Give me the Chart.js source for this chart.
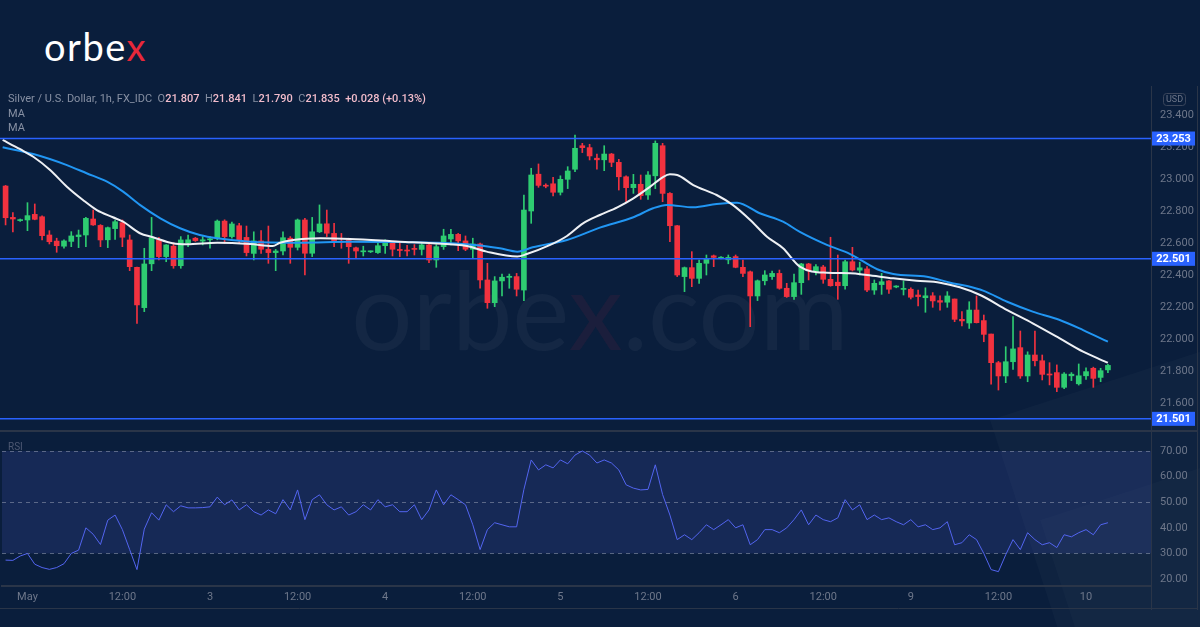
<!DOCTYPE html>
<html>
<head>
<meta charset="utf-8">
<script src="https://cdn.jsdelivr.net/npm/chart.js@4.4.0/dist/chart.umd.min.js"></script>
<style>
    html, body { margin: 0; padding: 0; }
    body { width: 1200px; height: 627px; background: #0a1e3c; overflow: hidden; position: relative; font-family: Roboto, 'Liberation Sans', sans-serif; }
    .deco { position: absolute; left: 990px; top: 420px; width: 420px; height: 460px; background: rgba(255,255,255,0.025); transform: rotate(-18deg); transform-origin: 0 0; }
    .deco2 { position: absolute; left: 1040px; top: 520px; width: 420px; height: 300px; background: rgba(255,255,255,0.02); transform: rotate(-18deg); transform-origin: 0 0; }
    .logo { position: absolute; left: 44px; top: 28px; font-family: Lato, 'Open Sans', sans-serif; font-size: 38px; line-height: 37px; color: #fff; letter-spacing: 1.5px; }
    .logo span { color: #e8283a; }
    .mark { position: absolute; left: 0; width: 1200px; top: 256px; text-align: center; font-family: Lato, sans-serif; font-weight: 400; font-size: 108px; line-height: 105px; color: rgba(255,255,255,0.045); }
    .mark span { color: rgba(230,40,60,0.08); }
    #wrap { position: absolute; left: 0; top: 86px; width: 1198px; height: 524px; }
    .legend { position: absolute; left: 8px; top: 92px; font-size: 11px; line-height: 14.5px; color: #8790a3; }
    .legend b { font-weight: 500; color: #f2bccb; }
    .rsi-title { position: absolute; left: 8px; top: 441px; font-size: 10px; color: #4d5872; }
</style>
</head>
<body>
<div class="deco"></div>
<div class="deco2"></div>
<div class="logo">orbe<span>x</span></div>
<div class="mark">orbe<span>x</span>.com</div>
<div id="wrap"><canvas id="grafico" width="1198" height="524"></canvas></div>
<div class="legend">
    Silver / U.S. Dollar, 1h, FX_IDC&nbsp;&nbsp;O<b>21.807</b>&nbsp;&nbsp;H<b>21.841</b>&nbsp;&nbsp;L<b>21.790</b>&nbsp;&nbsp;C<b>21.835</b>&nbsp;&nbsp;<b>+0.028 (+0.13%)</b><br>
    MA<br>
    MA
</div>
<div class="rsi-title">RSI</div>
<script>
// candles (1h), index 0 = first bar on the left
const abertura = [22.956,22.760,22.740,22.744,22.779,22.764,22.650,22.612,22.580,22.610,22.640,22.650,22.750,22.710,22.620,22.690,22.727,22.619,22.448,22.196,
    22.470,22.619,22.515,22.580,22.458,22.600,22.630,22.612,22.620,22.630,22.737,22.640,22.708,22.635,22.535,22.613,22.560,22.540,22.550,22.630,
    22.573,22.744,22.536,22.670,22.720,22.660,22.610,22.620,22.570,22.545,22.545,22.540,22.583,22.600,22.560,22.555,22.565,22.560,22.588,22.494,
    22.577,22.625,22.654,22.613,22.561,22.594,22.369,22.227,22.363,22.385,22.390,22.306,22.800,23.030,22.960,22.970,22.917,22.998,23.061,23.208,
    23.196,23.130,23.120,23.156,23.104,23.014,22.946,22.967,22.900,23.020,23.208,22.910,22.708,22.390,22.446,22.379,22.473,22.520,22.505,22.495,
    22.515,22.448,22.420,22.269,22.364,22.390,22.410,22.317,22.265,22.352,22.469,22.420,22.450,22.373,22.355,22.333,22.483,22.430,22.438,22.306,
    22.340,22.363,22.325,22.310,22.311,22.275,22.258,22.270,22.240,22.230,22.250,22.123,22.100,22.181,22.115,22.031,21.852,21.769,21.858,21.946,
    21.769,21.900,21.864,21.780,21.790,21.698,21.770,21.720,21.770,21.817,21.760,21.807];
const maxima = [22.960,22.790,22.750,22.852,22.844,22.770,22.677,22.630,22.620,22.671,22.681,22.760,22.806,22.715,22.700,22.744,22.744,22.650,22.450,22.567,
    22.760,22.635,22.590,22.600,22.640,22.650,22.635,22.640,22.640,22.744,22.745,22.730,22.723,22.706,22.670,22.677,22.706,22.560,22.670,22.640,
    22.750,22.754,22.760,22.838,22.806,22.723,22.660,22.630,22.575,22.580,22.550,22.600,22.620,22.600,22.600,22.585,22.590,22.600,22.595,22.590,
    22.686,22.686,22.660,22.644,22.630,22.600,22.473,22.390,22.406,22.406,22.410,22.900,23.067,23.094,22.970,23.010,23.020,23.077,23.275,23.223,
    23.217,23.156,23.208,23.160,23.123,23.020,23.029,23.025,23.046,23.238,23.223,22.915,22.710,22.450,22.546,22.494,22.525,22.525,22.515,22.525,
    22.525,22.494,22.425,22.369,22.427,22.425,22.431,22.348,22.406,22.473,22.473,22.465,22.460,22.636,22.525,22.494,22.573,22.480,22.452,22.369,
    22.410,22.365,22.333,22.363,22.320,22.306,22.320,22.290,22.270,22.296,22.250,22.171,22.233,22.269,22.150,22.031,21.860,21.952,22.140,22.050,
    21.920,22.050,21.900,21.852,21.838,21.790,21.790,21.844,21.820,21.824,21.817,21.841];
const minimas = [22.713,22.670,22.735,22.677,22.745,22.619,22.594,22.542,22.567,22.577,22.571,22.577,22.710,22.577,22.571,22.623,22.577,22.427,22.098,22.171,
    22.427,22.494,22.483,22.442,22.442,22.577,22.610,22.588,22.567,22.620,22.598,22.630,22.598,22.519,22.494,22.535,22.473,22.427,22.525,22.473,
    22.556,22.400,22.515,22.665,22.640,22.577,22.567,22.473,22.505,22.519,22.540,22.535,22.535,22.519,22.515,22.520,22.525,22.525,22.477,22.448,
    22.560,22.588,22.552,22.552,22.505,22.317,22.192,22.202,22.269,22.317,22.269,22.240,22.723,22.948,22.945,22.894,22.900,22.940,23.046,23.165,
    23.119,23.061,23.052,23.077,22.931,22.852,22.910,22.873,22.873,22.940,22.858,22.608,22.390,22.296,22.327,22.348,22.400,22.452,22.500,22.470,
    22.445,22.390,22.077,22.240,22.338,22.373,22.311,22.260,22.248,22.279,22.369,22.400,22.348,22.330,22.248,22.311,22.425,22.400,22.296,22.279,
    22.279,22.285,22.320,22.275,22.250,22.206,22.167,22.198,22.180,22.198,22.108,22.081,22.066,22.100,21.983,21.717,21.681,21.727,21.810,21.754,
    21.733,21.831,21.744,21.713,21.671,21.690,21.740,21.712,21.748,21.698,21.733,21.790];
const fechamento = [22.758,22.750,22.745,22.771,22.748,22.646,22.608,22.583,22.613,22.644,22.650,22.754,22.713,22.619,22.696,22.733,22.636,22.452,22.213,22.469,
    22.633,22.515,22.588,22.458,22.619,22.620,22.615,22.620,22.625,22.737,22.640,22.719,22.615,22.540,22.613,22.561,22.540,22.550,22.633,22.573,
    22.744,22.536,22.670,22.719,22.661,22.608,22.605,22.577,22.550,22.550,22.548,22.583,22.598,22.561,22.553,22.550,22.560,22.588,22.494,22.577,
    22.644,22.654,22.613,22.561,22.594,22.369,22.227,22.363,22.386,22.392,22.311,22.806,23.025,22.960,22.955,22.917,22.998,23.050,23.192,23.196,
    23.144,23.120,23.156,23.104,23.014,22.946,22.967,22.896,23.025,23.223,22.910,22.708,22.400,22.446,22.379,22.473,22.504,22.510,22.510,22.510,
    22.448,22.410,22.269,22.364,22.400,22.410,22.317,22.265,22.352,22.469,22.427,22.452,22.373,22.333,22.333,22.483,22.431,22.445,22.306,22.348,
    22.358,22.311,22.330,22.313,22.261,22.265,22.270,22.238,22.230,22.269,22.123,22.113,22.181,22.102,22.029,21.852,21.769,21.858,21.938,21.769,
    21.900,21.864,21.779,21.775,21.698,21.781,21.780,21.770,21.796,21.754,21.802,21.835];

// moving averages (bar index, price)
const maRapidaX = [-0.4,2,3.8,6.1,8.4,10.6,12.5,14.7,16.1,18.4,20.2,22.9,24.8,29,33.5,36.6,37.6,39.4,43.1,47.2,54,58.5,63.2,65.9,70.1,71.4,74.6,76.9,79.1,81.4,83.8,86,88.3,90.1,91,92,94.2,97.4,99.6,102,104.3,106.5,108.8,112.5,115.7,118,121.6,124.8,128,130.7,133.5,137.2,140.7,144.4,147.6,149.9,151];
const maRapidaY = [23.244,23.186,23.139,23.056,22.952,22.869,22.806,22.761,22.733,22.661,22.636,22.598,22.592,22.602,22.594,22.581,22.602,22.619,22.629,22.625,22.608,22.598,22.581,22.546,22.515,22.531,22.588,22.644,22.723,22.775,22.823,22.879,22.952,23.014,23.029,23.025,22.962,22.900,22.838,22.744,22.639,22.567,22.452,22.414,22.411,22.400,22.379,22.364,22.352,22.323,22.275,22.181,22.098,22.004,21.921,21.873,21.852];
const maLentaX = [-0.4,3.8,8.4,11.1,13.9,16.1,18.4,21.2,23.9,26.6,29,33.5,40.3,47.2,54,63.2,67.7,70.1,72.2,76.9,81.4,86,88.7,90.6,94.2,97.4,100.2,103.3,106.5,108.8,112.5,115.7,119.4,121.6,126.2,129.4,131.7,133.9,137.2,140.7,144.4,147.6,151];
const maLentaY = [23.198,23.156,23.087,23.036,22.983,22.921,22.838,22.754,22.692,22.650,22.629,22.608,22.602,22.608,22.606,22.592,22.567,22.546,22.573,22.619,22.696,22.761,22.817,22.838,22.823,22.844,22.852,22.786,22.733,22.669,22.588,22.531,22.436,22.406,22.389,22.352,22.331,22.302,22.233,22.171,22.119,22.056,21.983];

// RSI, one value per bar
const rsi = [27.4,27.3,29,30,25.8,24.5,23.8,24.5,26,30,31.3,40,37.5,33.5,43,45,39.3,31.5,23.7,39.5,
    45.9,43,49,46.3,48.6,47.8,47.8,47.9,48.2,52,49,50.9,47,49,46.3,45,47,45.5,51,47,
    54.8,43.2,51,52.9,49,47,48.2,45,46.3,49,47,51,48.2,49,46.3,46.3,49,43.2,47,54.8,
    49,52.9,51,49,41.2,31.5,39.3,42,41.2,40.4,40.4,55,66.5,62.6,64.6,63.4,66.5,65,68.4,70,
    68.4,65.3,66.5,65.3,62.6,56.8,55.5,54.8,55,64.6,53,45,35.4,37.3,35.4,38.1,41.2,39.3,41.2,43.2,
    40,41.2,33.4,35.4,39.3,39.3,38.1,40,43.2,47,41.2,45,43.2,42.4,43.9,51,47,49,43.2,45,
    43.2,43.9,42.4,41.2,43.2,40.4,41.2,39.3,40,42.4,33.4,34.2,37.3,35.4,30,23.7,22.9,29.5,35.4,31.5,
    38.1,35.4,33.4,34.2,32.3,37.3,36.5,38.1,39.3,37.3,41.2,42];

// horizontal levels and axis ticks
const niveis = [23.253, 22.501, 21.501];
const ticksPreco = [21.6, 21.8, 22.0, 22.2, 22.4, 22.6, 22.8, 23.0, 23.2, 23.4];
const ticksRsi = [20, 30, 40, 50, 60, 70];
const guiasRsi = [30, 50, 70];
const ticksTempoIdx = [3, 16, 28, 40, 52, 64, 76, 88, 100, 112, 124, 136, 148];
const ticksTempo = ['May', '12:00', '3', '12:00', '4', '12:00', '5', '12:00', '6', '12:00', '9', '12:00', '10'];

const VERDE = '#2ecc71';
const VERMELHO = '#f2323f';
const corCandle = abertura.map((o, i) => fechamento[i] >= o ? VERDE : VERMELHO);

const corpos = abertura.map((o, i) => ({ x: i, y: [o, fechamento[i]] }));
const pavios = abertura.map((o, i) => ({ x: i, y: [minimas[i], maxima[i]] }));

// zera o padding que o Chart.js reserva para os rotulos das pontas
function semPadding(s) {
    s.paddingTop = 0; s.paddingBottom = 0; s.paddingLeft = 0; s.paddingRight = 0;
}

const paineis = {
    id: 'paineis',
    beforeDatasetsDraw(c) {
        const { ctx, chartArea: a } = c;
        const r = c.scales.rsi;
        ctx.save();
        const yTop = r.getPixelForValue(70), yBot = r.getPixelForValue(30);
        ctx.fillStyle = 'rgba(72, 84, 190, 0.2)';
        ctx.fillRect(a.left, yTop, a.right - a.left, yBot - yTop);
        ctx.setLineDash([4, 4]);
        ctx.strokeStyle = 'rgba(150,158,178,0.55)';
        ctx.lineWidth = 1;
        guiasRsi.forEach(v => {
            const y = Math.round(r.getPixelForValue(v)) + 0.5;
            ctx.beginPath(); ctx.moveTo(a.left, y); ctx.lineTo(a.right, y); ctx.stroke();
        });
        ctx.restore();
    },
    afterDatasetsDraw(c) {
        const { ctx, chartArea: a } = c;
        const p = c.scales.price;
        ctx.save();
        ctx.strokeStyle = '#2962ff';
        ctx.lineWidth = 1.5;
        niveis.forEach(v => {
            const y = p.getPixelForValue(v);
            ctx.beginPath(); ctx.moveTo(0, y); ctx.lineTo(a.right, y); ctx.stroke();
        });
        ctx.restore();
    },
    afterDraw(c) {
        const { ctx, chartArea: a } = c;
        const p = c.scales.price;
        ctx.save();
        // separadores
        ctx.strokeStyle = '#2a3548';
        ctx.lineWidth = 2;
        ctx.beginPath(); ctx.moveTo(0, p.bottom); ctx.lineTo(c.width, p.bottom); ctx.stroke();
        ctx.lineWidth = 1;
        ctx.beginPath(); ctx.moveTo(c.width - 0.5, 0); ctx.lineTo(c.width - 0.5, c.height); ctx.stroke();
        ctx.beginPath(); ctx.moveTo(0, c.height - 1.5); ctx.lineTo(c.width, c.height - 1.5); ctx.stroke();
        ctx.beginPath(); ctx.moveTo(a.right + 0.5, 0); ctx.lineTo(a.right + 0.5, c.height); ctx.stroke();
        // etiquetas dos niveis
        ctx.font = 'bold 11px Roboto, sans-serif';
        ctx.textAlign = 'center';
        ctx.textBaseline = 'middle';
        niveis.forEach(v => {
            const y = p.getPixelForValue(v);
            ctx.fillStyle = '#2962ff';
            ctx.fillRect(a.right + 1, y - 7, 43, 14);
            ctx.fillStyle = '#ffffff';
            ctx.fillText(v.toFixed(3), a.right + 22.5, y + 0.5);
        });
        // caixa USD
        ctx.strokeStyle = '#3b465c';
        ctx.beginPath();
        ctx.roundRect(a.right + 12.5, 7.5, 22, 12, 3);
        ctx.stroke();
        ctx.fillStyle = '#6e778a';
        ctx.font = '9px Roboto, sans-serif';
        ctx.fillText('USD', a.right + 23.5, 14);
        ctx.restore();
    }
};

const fonteEixo = { family: 'Roboto, sans-serif', size: 11 };

new Chart(document.getElementById('grafico'), {
    type: 'bar',
    data: {
        datasets: [
            { type: 'line', data: maRapidaX.map((x, i) => ({ x, y: maRapidaY[i] })), yAxisID: 'price', borderColor: '#eef0f4', borderWidth: 2, pointRadius: 0, cubicInterpolationMode: 'monotone', order: 0 },
            { type: 'line', data: maLentaX.map((x, i) => ({ x, y: maLentaY[i] })), yAxisID: 'price', borderColor: '#2196f3', borderWidth: 2, pointRadius: 0, cubicInterpolationMode: 'monotone', order: 0 },
            { type: 'line', data: rsi.map((v, i) => ({ x: i, y: v })), yAxisID: 'rsi', borderColor: '#5365f0', borderWidth: 1, pointRadius: 0, tension: 0, order: 0 },
            { data: corpos, yAxisID: 'price', backgroundColor: corCandle, barThickness: 5, grouped: false, minBarLength: 1, order: 1 },
            { data: pavios, yAxisID: 'price', backgroundColor: corCandle, barThickness: 1, grouped: false, order: 2 }
        ]
    },
    options: {
        responsive: false,
        animation: false,
        events: [],
        layout: { padding: { left: 2, top: 1, right: 0, bottom: 0 } },
        plugins: { legend: { display: false }, tooltip: { enabled: false } },
        scales: {
            x: {
                type: 'linear', min: -0.49, max: 156.9, offset: false,
                grid: { display: false, drawTicks: false },
                border: { display: true, color: '#2a3548', width: 2 },
                afterBuildTicks: s => { s.ticks = ticksTempoIdx.map(v => ({ value: v })); },
                afterFit: s => { s.height = 24; semPadding(s); },
                ticks: { autoSkip: false, maxRotation: 0, padding: 5, color: '#6e778a', font: fonteEixo,
                    callback: (v, i) => ticksTempo[i] }
            },
            price: {
                axis: 'y', position: 'right', stack: 'panes', stackWeight: 344,
                min: 21.425, max: 23.575,
                grid: { display: false, drawTicks: false },
                border: { display: true, color: '#2a3548' },
                afterBuildTicks: s => { s.ticks = ticksPreco.map(v => ({ value: v })); },
                afterFit: s => { s.width = 47; semPadding(s); },
                ticks: { padding: 9, color: '#6e778a', font: fonteEixo, callback: v => v.toFixed(3) }
            },
            rsi: {
                axis: 'y', position: 'right', stack: 'panes', stackWeight: 155,
                min: 17.3, max: 77.8,
                grid: { display: false, drawTicks: false },
                border: { display: true, color: '#2a3548' },
                afterBuildTicks: s => { s.ticks = ticksRsi.map(v => ({ value: v })); },
                afterFit: s => { s.width = 47; semPadding(s); },
                ticks: { padding: 9, color: '#6e778a', font: fonteEixo, callback: v => v.toFixed(2) }
            }
        }
    },
    plugins: [paineis]
});
</script>
</body>
</html>
